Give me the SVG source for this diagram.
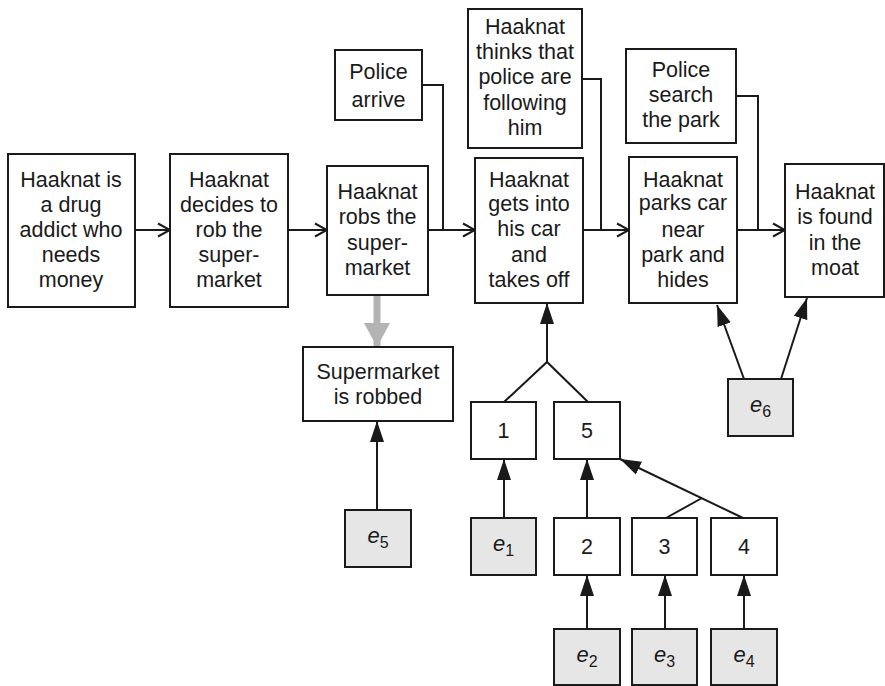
<svg xmlns="http://www.w3.org/2000/svg" width="885" height="686" viewBox="0 0 885 686">
  <style>
    .box { fill: #ffffff; stroke: #1a1a1a; stroke-width: 2; }
    .ev { fill: #e6e6e6; stroke: #1a1a1a; stroke-width: 2; }
    .lbl { font-family: "Liberation Sans", Arial, sans-serif; font-size: 21.5px; fill: #1a1a1a; text-anchor: middle; }
    .evl { font-family: "Liberation Sans", Arial, sans-serif; font-size: 22px; font-style: italic; fill: #1a1a1a; text-anchor: middle; }
    .sub { font-size: 16px; font-style: normal; }
    .ln { fill: none; stroke: #1a1a1a; stroke-width: 2; }
    .flow { marker-end: url(#open); }
    .cause { marker-end: url(#solid); }
    .grey { fill: none; stroke: #b3b3b3; stroke-width: 7; marker-end: url(#greyhead); }
  </style>
  <defs>
    <marker id="open" markerUnits="userSpaceOnUse" markerWidth="16" markerHeight="16" viewBox="0 0 16 16" refX="14" refY="8" orient="auto">
      <path d="M2,1.5 L14,8 L2,14.5" fill="none" stroke="#1a1a1a" stroke-width="2"/>
    </marker>
    <marker id="solid" markerUnits="userSpaceOnUse" markerWidth="22" markerHeight="16" viewBox="0 0 22 16" refX="21" refY="8" orient="auto">
      <path d="M0,1 L21,8 L0,15 Z" fill="#1a1a1a"/>
    </marker>
    <marker id="greyhead" markerUnits="userSpaceOnUse" markerWidth="26" markerHeight="28" viewBox="0 0 26 28" refX="24" refY="14" orient="auto">
      <path d="M0,1 L24,14 L0,27 Z" fill="#b3b3b3"/>
    </marker>
  </defs>

  <!-- connectors -->
  <g id="connectors">
    <!-- main storyline -->
    <line class="ln flow" x1="135" y1="230" x2="170" y2="230"/>
    <line class="ln flow" x1="288" y1="230" x2="327" y2="230"/>
    <line class="ln flow" x1="428" y1="230" x2="475" y2="230"/>
    <line class="ln flow" x1="583" y1="230" x2="629" y2="230"/>
    <line class="ln flow" x1="737" y1="230" x2="785" y2="230"/>
    <!-- side events joining the storyline -->
    <polyline class="ln" points="422,85 443,85 443,230"/>
    <polyline class="ln" points="582,79 601,79 601,230"/>
    <polyline class="ln" points="736,96 758,96 758,230"/>
    <!-- derived event -->
    <line class="grey" x1="377" y1="295" x2="377" y2="347"/>
    <!-- evidence links -->
    <line class="ln cause" x1="377" y1="510" x2="377" y2="421"/>
    <polyline class="ln" points="504,402 547,362 588,402"/>
    <line class="ln cause" x1="547" y1="362" x2="547" y2="303"/>
    <line class="ln cause" x1="504" y1="518" x2="504" y2="459"/>
    <line class="ln cause" x1="587" y1="518" x2="587" y2="459"/>
    <line class="ln cause" x1="743" y1="518" x2="620" y2="459"/>
    <line class="ln" x1="666" y1="518" x2="702" y2="498"/>
    <line class="ln cause" x1="587" y1="629" x2="587" y2="575"/>
    <line class="ln cause" x1="665" y1="629" x2="665" y2="575"/>
    <line class="ln cause" x1="744" y1="629" x2="744" y2="575"/>
    <line class="ln cause" x1="744" y1="379" x2="717" y2="305"/>
    <line class="ln cause" x1="781" y1="379" x2="807" y2="298"/>
  </g>

  <g id="addict">
    <rect class="box" x="8" y="154" width="127" height="153"/>
    <text class="lbl"><tspan x="71" y="187">Haaknat is</tspan><tspan x="71" y="212">a drug</tspan><tspan x="71" y="237">addict who</tspan><tspan x="71" y="262">needs</tspan><tspan x="71" y="287">money</tspan></text>
  </g>
  <g id="decides">
    <rect class="box" x="170" y="154" width="118" height="153"/>
    <text class="lbl"><tspan x="229" y="187">Haaknat</tspan><tspan x="229" y="212">decides to</tspan><tspan x="229" y="237">rob the</tspan><tspan x="229" y="262">super-</tspan><tspan x="229" y="287">market</tspan></text>
  </g>
  <g id="robs">
    <rect class="box" x="327" y="166" width="101" height="129"/>
    <text class="lbl"><tspan x="377.5" y="199">Haaknat</tspan><tspan x="377.5" y="224">robs the</tspan><tspan x="377.5" y="250">super-</tspan><tspan x="377.5" y="275">market</tspan></text>
  </g>
  <g id="police-arrive">
    <rect class="box" x="335" y="50" width="87" height="70"/>
    <text class="lbl"><tspan x="378.5" y="79">Police</tspan><tspan x="378.5" y="107">arrive</tspan></text>
  </g>
  <g id="takes-off">
    <rect class="box" x="475" y="158" width="108" height="145"/>
    <text class="lbl"><tspan x="529" y="187">Haaknat</tspan><tspan x="529" y="211">gets into</tspan><tspan x="529" y="236">his car</tspan><tspan x="529" y="262">and</tspan><tspan x="529" y="287">takes off</tspan></text>
  </g>
  <g id="thinks">
    <rect class="box" x="468" y="9" width="114" height="139"/>
    <text class="lbl"><tspan x="525" y="34">Haaknat</tspan><tspan x="525" y="59">thinks that</tspan><tspan x="525" y="84">police are</tspan><tspan x="525" y="110">following</tspan><tspan x="525" y="135">him</tspan></text>
  </g>
  <g id="parks">
    <rect class="box" x="629" y="157" width="108" height="146"/>
    <text class="lbl"><tspan x="683" y="187">Haaknat</tspan><tspan x="683" y="210">parks car</tspan><tspan x="683" y="237">near</tspan><tspan x="683" y="262">park and</tspan><tspan x="683" y="287">hides</tspan></text>
  </g>
  <g id="police-search">
    <rect class="box" x="626" y="49" width="110" height="94"/>
    <text class="lbl"><tspan x="681" y="77">Police</tspan><tspan x="681" y="102">search</tspan><tspan x="681" y="127">the park</tspan></text>
  </g>
  <g id="found">
    <rect class="box" x="785" y="164" width="99" height="133"/>
    <text class="lbl"><tspan x="835" y="199">Haaknat</tspan><tspan x="835" y="224">is found</tspan><tspan x="835" y="250">in the</tspan><tspan x="835" y="275">moat</tspan></text>
  </g>
  <g id="robbed">
    <rect class="box" x="303" y="347" width="150" height="74"/>
    <text class="lbl"><tspan x="378" y="379">Supermarket</tspan><tspan x="378" y="404">is robbed</tspan></text>
  </g>

  <g id="n1">
    <rect class="box" x="471" y="402" width="65" height="57"/>
    <text class="lbl" x="503.5" y="438">1</text>
  </g>
  <g id="n5">
    <rect class="box" x="554" y="402" width="66" height="57"/>
    <text class="lbl" x="587" y="438">5</text>
  </g>
  <g id="n2">
    <rect class="box" x="554" y="518" width="66" height="57"/>
    <text class="lbl" x="587" y="554">2</text>
  </g>
  <g id="n3">
    <rect class="box" x="632" y="518" width="65" height="57"/>
    <text class="lbl" x="664.5" y="554">3</text>
  </g>
  <g id="n4">
    <rect class="box" x="711" y="518" width="66" height="57"/>
    <text class="lbl" x="744" y="554">4</text>
  </g>

  <g id="e1">
    <rect class="ev" x="471" y="518" width="65" height="57"/>
    <text class="evl" x="503.5" y="551">e<tspan class="sub" dy="5">1</tspan></text>
  </g>
  <g id="e2">
    <rect class="ev" x="554" y="629" width="66" height="56"/>
    <text class="evl" x="587" y="662">e<tspan class="sub" dy="5">2</tspan></text>
  </g>
  <g id="e3">
    <rect class="ev" x="632" y="629" width="65" height="56"/>
    <text class="evl" x="664.5" y="662">e<tspan class="sub" dy="5">3</tspan></text>
  </g>
  <g id="e4">
    <rect class="ev" x="711" y="629" width="66" height="56"/>
    <text class="evl" x="744" y="662">e<tspan class="sub" dy="5">4</tspan></text>
  </g>
  <g id="e5">
    <rect class="ev" x="345" y="510" width="66" height="57"/>
    <text class="evl" x="378" y="543">e<tspan class="sub" dy="5">5</tspan></text>
  </g>
  <g id="e6">
    <rect class="ev" x="728" y="379" width="65" height="57"/>
    <text class="evl" x="760.5" y="412">e<tspan class="sub" dy="5">6</tspan></text>
  </g>
</svg>
